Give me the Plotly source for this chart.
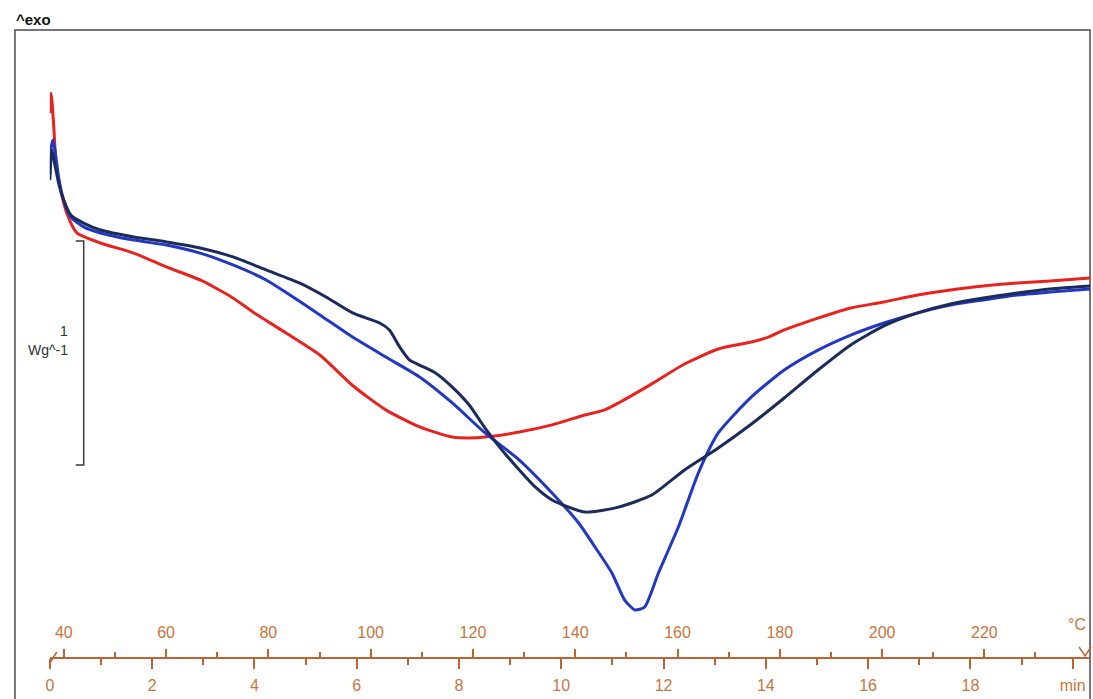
import plotly.graph_objects as go

# ---- data (time in min, heat flow in W/g, arbitrary offset) ----
red_t = [0.00, 0.02, 0.04, 0.08, 0.12, 0.21, 0.33, 0.53, 0.99, 1.64, 2.28, 2.94, 3.58, 3.97,
         4.62, 5.28, 5.92, 6.57, 7.23, 7.87, 8.20, 8.51, 9.18, 9.82, 10.46, 10.85, 11.12,
         11.77, 12.41, 13.07, 13.72, 14.05, 14.36, 15.02, 15.66, 16.31, 16.97, 17.61, 18.25,
         18.92, 19.56, 20.34]
red_hf = [0.57, 0.66, 0.63, 0.50, 0.35, 0.23, 0.125, 0.036, -0.009, -0.054, -0.116, -0.174,
          -0.254, -0.317, -0.411, -0.509, -0.645, -0.754, -0.830, -0.875, -0.879, -0.875,
          -0.853, -0.821, -0.777, -0.754, -0.723, -0.638, -0.549, -0.482, -0.451, -0.429,
          -0.397, -0.344, -0.299, -0.272, -0.241, -0.219, -0.201, -0.188, -0.179, -0.165]

blue_t = [0.00, 0.02, 0.06, 0.10, 0.18, 0.27, 0.41, 0.66, 0.99, 1.64, 2.28, 2.94, 3.58, 4.23,
          4.62, 5.28, 5.92, 6.57, 7.23, 7.87, 8.51, 9.18, 9.82, 10.34, 10.66, 10.99, 11.24,
          11.44, 11.63, 11.90, 12.29, 12.68, 13.07, 13.72, 14.36, 15.02, 15.66, 16.31,
          16.97, 17.61, 18.25, 18.92, 19.56, 20.34]
blue_hf = [0.295, 0.406, 0.451, 0.406, 0.272, 0.183, 0.107, 0.063, 0.036, 0.004, -0.018,
           -0.054, -0.107, -0.174, -0.230, -0.330, -0.429, -0.518, -0.607, -0.723, -0.857,
           -0.978, -1.125, -1.259, -1.366, -1.482, -1.603, -1.647, -1.634, -1.482, -1.277,
           -1.036, -0.857, -0.696, -0.576, -0.487, -0.420, -0.366, -0.321, -0.286,
           -0.263, -0.241, -0.228, -0.214]

navy_t = [0.00, 0.02, 0.04, 0.08, 0.18, 0.27, 0.41, 0.66, 0.99, 1.64, 2.28, 2.94, 3.58, 4.23,
          4.89, 5.40, 5.92, 6.45, 6.64, 6.84, 7.03, 7.23, 7.54, 7.87, 8.20, 8.51, 8.84, 9.18,
          9.49, 9.82, 10.46, 11.12, 11.77, 12.41, 13.07, 13.72, 14.36, 15.02, 15.66, 16.31,
          16.97, 17.61, 18.25, 18.92, 19.56, 20.34]
navy_hf = [0.272, 0.362, 0.406, 0.362, 0.250, 0.183, 0.116, 0.080, 0.049, 0.018, -0.004,
           -0.031, -0.071, -0.129, -0.188, -0.250, -0.321, -0.366, -0.397, -0.473, -0.531,
           -0.554, -0.589, -0.652, -0.732, -0.835, -0.933, -1.022, -1.098, -1.156, -1.210,
           -1.188, -1.134, -1.022, -0.924, -0.817, -0.701, -0.576, -0.464, -0.379, -0.321,
           -0.281, -0.254, -0.232, -0.214, -0.201]

time_ticks = [0, 2, 4, 6, 8, 10, 12, 14, 16, 18, 20]
time_labels = ["0", "2", "4", "6", "8", "10", "12", "14", "16", "18", "min"]
time_minor = [1, 3, 5, 7, 9, 11, 13, 15, 17, 19]
temp_ticks = [40, 60, 80, 100, 120, 140, 160, 180, 200, 220]
temp_minor = [50, 70, 90, 110, 130, 150, 170, 190, 210, 230]

# scale bar: 1 W/g
bar_t = [0.507, 0.662, 0.662, 0.507]
bar_hf = [0.0, 0.0, -1.0, -1.0]

W, H = 1093, 699
AX = "#bf6430"
TXT = "#c8753e"
px_per_min = 51.33
t0_px, t_end_px = 46, 1090
t_max = (t_end_px - t0_px) / px_per_min
temp_at_0 = 37.27
axis_y_px = 658

fig = go.Figure()
fig.add_trace(go.Scatter(x=red_t, y=red_hf, mode="lines", line=dict(color="#e8231f", width=3, shape="spline", smoothing=0.6), hoverinfo="skip"))
fig.add_trace(go.Scatter(x=blue_t, y=blue_hf, mode="lines", line=dict(color="#2238c4", width=3, shape="spline", smoothing=0.6), hoverinfo="skip"))
fig.add_trace(go.Scatter(x=navy_t, y=navy_hf, mode="lines", line=dict(color="#1b2b5c", width=3, shape="spline", smoothing=0.6), hoverinfo="skip"))
fig.add_trace(go.Scatter(x=bar_t, y=bar_hf, mode="lines", line=dict(color="#3a3a3a", width=1.5), hoverinfo="skip"))
fig.add_trace(go.Scatter(x=temp_ticks, y=[None] * len(temp_ticks), xaxis="x2", mode="lines", hoverinfo="skip"))

ytop = 241 / 224
ybot = (241 - H) / 224

fig.update_layout(
    width=W, height=H, margin=dict(l=0, r=0, t=0, b=0),
    paper_bgcolor="white", plot_bgcolor="rgba(0,0,0,0)",
    showlegend=False,
    font=dict(family="Liberation Sans, Arial, sans-serif"),
    xaxis=dict(domain=[t0_px / W, t_end_px / W], range=[0, t_max], anchor="free",
               position=(H - axis_y_px) / H, showline=True, linecolor=AX, linewidth=1.5,
               ticks="outside", ticklen=10, tickwidth=1.5, tickcolor=AX,
               tickvals=time_ticks, ticktext=time_labels, ticklabelstandoff=3,
               minor=dict(tickvals=time_minor, ticks="outside", ticklen=6, tickwidth=1.5, tickcolor=AX),
               tickfont=dict(size=16, color=TXT), showgrid=False, zeroline=False),
    xaxis2=dict(domain=[t0_px / W, t_end_px / W], overlaying="x", side="top", anchor="free",
                position=(H - axis_y_px) / H, range=[temp_at_0, temp_at_0 + 10 * t_max],
                showline=False, ticks="outside", ticklen=9, tickwidth=1.5, tickcolor=AX,
                tickvals=temp_ticks, ticklabelstandoff=5,
                minor=dict(tickvals=temp_minor, ticks="outside", ticklen=6, tickwidth=1.5, tickcolor=AX),
                tickfont=dict(size=16, color=TXT), showgrid=False, zeroline=False),
    yaxis=dict(domain=[0, 1], range=[ybot, ytop], visible=False),
)

# frame
fig.add_shape(type="rect", xref="paper", yref="paper", x0=11 / W, x1=1090 / W,
              y0=-0.01, y1=1 - 30 / H, line=dict(color="#4a4a4a", width=1.5), layer="below")
# axis break / end marks
fig.add_shape(type="line", xref="paper", yref="paper", x0=46 / W, y0=(H - 663) / H, x1=53 / W, y1=(H - 652) / H,
              line=dict(color=AX, width=1.5))
fig.add_shape(type="path", xref="paper", yref="paper",
              path=f"M {1079/W} {(H-647)/H} L {1085/W} {(H-656)/H} L {1091/W} {(H-647)/H}",
              line=dict(color=AX, width=1.5))

fig.add_annotation(xref="paper", yref="paper", x=10 / W, y=1 - 20 / H, text="<b>^exo</b>",
                   showarrow=False, xanchor="left", yanchor="middle", font=dict(size=15, color="#111"))
fig.add_annotation(xref="paper", yref="paper", x=1088 / W, y=1 - 624 / H, text="°C",
                   showarrow=False, xanchor="right", yanchor="middle", font=dict(size=16, color=TXT))
fig.add_annotation(x=0.39, y=-0.40, text="1", showarrow=False, xanchor="right", yanchor="middle",
                   font=dict(size=14, color="#333"))
fig.add_annotation(x=0.39, y=-0.487, text="Wg^-1", showarrow=False, xanchor="right", yanchor="middle",
                   font=dict(size=14, color="#333"))

fig.write_html("out.html", config={"displayModeBar": False},
               post_script="document.body.style.margin='0';document.body.style.overflow='hidden';")
